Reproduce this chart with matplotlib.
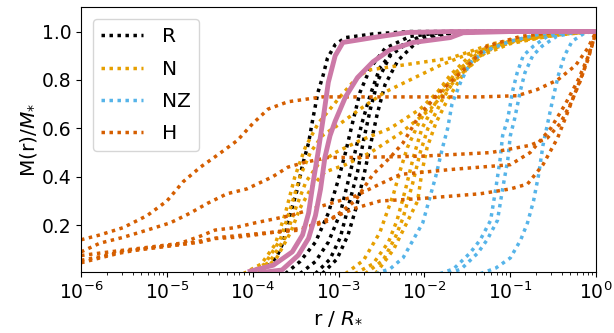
import numpy as np
import matplotlib
matplotlib.use("Agg")
import matplotlib.pyplot as plt

# colours per model family
C_R = "black"
C_N = "#E69F00"
C_NZ = "#56B4E9"
C_H = "#D55E00"
C_P = "#CC79A7"

# log10(r / R*) and enclosed mass fraction
# --- R ---
R1_logr = [-4.00, -3.83, -3.72, -3.65, -3.56, -3.48, -3.42, -3.35, -3.30, -3.24, -3.18, -3.13, -3.04, -2.92, -2.60, -2.17, 0.0]
R1_m = [0.006, 0.027, 0.07, 0.126, 0.25, 0.35, 0.45, 0.54, 0.64, 0.75, 0.82, 0.89, 0.946, 0.975, 0.99, 1.0, 1.0]
R2_logr = [-3.62, -3.45, -3.27, -3.12, -3.01, -2.92, -2.84, -2.75, -2.63, -2.46, -2.17, -1.70, 0.0]
R2_m = [0.0, 0.05, 0.13, 0.25, 0.38, 0.5, 0.62, 0.75, 0.85, 0.93, 0.98, 1.0, 1.0]
R3_logr = [-3.45, -3.27, -3.12, -2.98, -2.89, -2.81, -2.73, -2.63, -2.52, -2.34, -2.05, -1.58, 0.0]
R3_m = [0.0, 0.05, 0.13, 0.25, 0.38, 0.5, 0.62, 0.74, 0.85, 0.93, 0.98, 1.0, 1.0]
R4_logr = [-3.27, -3.10, -2.98, -2.87, -2.78, -2.71, -2.63, -2.54, -2.40, -2.17, -1.82, -1.35, 0.0]
R4_m = [0.0, 0.06, 0.15, 0.3, 0.42, 0.55, 0.68, 0.8, 0.9, 0.96, 0.99, 1.0, 1.0]
R5_logr = [-3.19, -3.02, -2.89, -2.79, -2.71, -2.63, -2.55, -2.46, -2.31, -2.11, -1.76, -1.23, 0.0]
R5_m = [0.0, 0.06, 0.16, 0.28, 0.4, 0.53, 0.66, 0.78, 0.88, 0.95, 0.99, 1.0, 1.0]

# --- N ---
N1_logr = [-4.11, -3.90, -3.74, -3.62, -3.51, -3.39, -3.24, -3.10, -2.96, -2.81, -2.67, -2.28, -1.70, -1.20, -0.77, -0.18, 0.0]
N1_m = [0.0, 0.04, 0.12, 0.25, 0.4, 0.52, 0.62, 0.68, 0.74, 0.8, 0.84, 0.86, 0.89, 0.95, 0.98, 1.0, 1.0]
N2_logr = [-4.05, -3.86, -3.68, -3.56, -3.45, -3.33, -3.19, -2.98, -2.75, -2.46, -2.17, -1.82, -1.47, -1.00, -0.42, 0.0]
N2_m = [0.0, 0.04, 0.14, 0.27, 0.4, 0.5, 0.57, 0.62, 0.68, 0.75, 0.8, 0.86, 0.91, 0.96, 0.99, 1.0]
N3_logr = [-4.01, -3.80, -3.62, -3.49, -3.38, -3.24, -3.04, -2.75, -2.40, -2.05, -1.76, -1.47, -1.17, -0.65, 0.0]
N3_m = [0.0, 0.05, 0.15, 0.28, 0.38, 0.45, 0.5, 0.55, 0.6, 0.68, 0.78, 0.88, 0.94, 0.98, 1.0]
N4_logr = [-3.94, -3.73, -3.56, -3.45, -3.31, -3.16, -2.92, -2.63, -2.28, -1.93, -1.64, -1.35, -1.00, -0.42, 0.0]
N4_m = [0.0, 0.06, 0.17, 0.27, 0.36, 0.42, 0.45, 0.5, 0.58, 0.68, 0.8, 0.9, 0.95, 0.99, 1.0]
N5_logr = [-2.92, -2.71, -2.52, -2.36, -2.28, -2.20, -2.07, -1.91, -1.70, -1.47, -1.12, -0.59, 0.0]
N5_m = [0.0, 0.055, 0.17, 0.33, 0.43, 0.52, 0.62, 0.72, 0.82, 0.9, 0.95, 0.99, 1.0]
N6_logr = [-2.81, -2.60, -2.42, -2.32, -2.22, -2.13, -2.03, -1.85, -1.64, -1.38, -1.00, -0.42, 0.0]
N6_m = [0.0, 0.04, 0.13, 0.22, 0.35, 0.48, 0.6, 0.72, 0.83, 0.91, 0.96, 0.99, 1.0]
N7_logr = [-2.69, -2.48, -2.34, -2.25, -2.14, -2.05, -1.96, -1.79, -1.58, -1.33, -0.94, -0.36, 0.0]
N7_m = [0.0, 0.056, 0.15, 0.23, 0.37, 0.5, 0.6, 0.72, 0.84, 0.92, 0.96, 0.99, 1.0]
N8_logr = [-2.57, -2.36, -2.22, -2.08, -2.03, -1.97, -1.87, -1.73, -1.52, -1.27, -0.88, -0.30, 0.0]
N8_m = [0.0, 0.1, 0.2, 0.3, 0.42, 0.52, 0.62, 0.72, 0.84, 0.92, 0.97, 0.995, 1.0]

# --- NZ ---
NZ1_logr = [-2.57, -2.40, -2.25, -2.02, -1.87, -1.79, -1.73, -1.68, -1.58, -1.47, -1.29, -1.00, -0.65, 0.0]
NZ1_m = [0.0, 0.02, 0.065, 0.21, 0.4, 0.52, 0.6, 0.7, 0.79, 0.87, 0.92, 0.96, 0.99, 1.0]
NZ2_logr = [-1.82, -1.66, -1.47, -1.35, -1.23, -1.17, -1.12, -1.09, -1.03, -0.97, -0.92, -0.85, -0.73, -0.57, -0.30, 0.0]
NZ2_m = [0.0, 0.02, 0.085, 0.14, 0.22, 0.35, 0.47, 0.57, 0.64, 0.76, 0.83, 0.9, 0.94, 0.98, 1.0, 1.0]
NZ3_logr = [-1.72, -1.57, -1.38, -1.27, -1.15, -1.09, -1.03, -1.00, -0.95, -0.88, -0.83, -0.74, -0.63, -0.46, -0.21, 0.0]
NZ3_m = [0.0, 0.02, 0.085, 0.14, 0.22, 0.35, 0.47, 0.57, 0.64, 0.76, 0.83, 0.9, 0.94, 0.98, 1.0, 1.0]
NZ4_logr = [-1.35, -1.17, -1.00, -0.88, -0.80, -0.73, -0.67, -0.62, -0.56, -0.50, -0.44, -0.37, -0.28, -0.13, 0.0]
NZ4_m = [0.0, 0.023, 0.065, 0.139, 0.21, 0.3, 0.41, 0.53, 0.63, 0.73, 0.82, 0.9, 0.96, 0.995, 1.0]

# --- H ---
H1_logr = [-6.00, -5.78, -5.51, -5.23, -5.00, -4.81, -4.61, -4.41, -4.18, -4.00, -3.82, -3.59, -3.19, -2.81, -2.05, -1.35, -0.92, -0.69, -0.45, -0.24, -0.10, 0.0]
H1_m = [0.14, 0.16, 0.19, 0.24, 0.30, 0.38, 0.44, 0.49, 0.55, 0.62, 0.68, 0.71, 0.73, 0.73, 0.73, 0.73, 0.735, 0.76, 0.80, 0.86, 0.93, 1.0]
H2_logr = [-6.00, -5.78, -5.51, -5.23, -4.96, -4.73, -4.53, -4.30, -4.07, -3.95, -3.77, -3.59, -3.39, -3.12, -2.81, -2.05, -1.23, -0.77, -0.57, -0.42, -0.30, -0.18, -0.09, 0.0]
H2_m = [0.09, 0.126, 0.15, 0.18, 0.21, 0.25, 0.29, 0.33, 0.35, 0.37, 0.40, 0.44, 0.46, 0.48, 0.48, 0.485, 0.5, 0.53, 0.56, 0.62, 0.7, 0.8, 0.9, 1.0]
H3_logr = [-6.00, -5.78, -5.55, -5.31, -5.08, -4.85, -4.61, -4.44, -4.21, -3.97, -3.56, -3.19, -2.81, -2.52, -2.28, -1.70, -1.00, -0.77, -0.53, -0.36, -0.21, -0.09, 0.0]
H3_m = [0.075, 0.085, 0.095, 0.105, 0.115, 0.125, 0.155, 0.18, 0.19, 0.21, 0.24, 0.28, 0.32, 0.37, 0.41, 0.43, 0.45, 0.5, 0.6, 0.7, 0.8, 0.9, 1.0]
H4_logr = [-6.00, -5.78, -5.55, -5.31, -5.08, -4.85, -4.61, -4.44, -4.21, -3.97, -3.39, -3.01, -2.81, -2.52, -2.05, -1.35, -1.00, -0.80, -0.62, -0.45, -0.34, -0.22, -0.10, 0.0]
H4_m = [0.055, 0.07, 0.09, 0.1, 0.11, 0.12, 0.13, 0.145, 0.15, 0.16, 0.19, 0.24, 0.27, 0.3, 0.31, 0.33, 0.35, 0.37, 0.45, 0.56, 0.66, 0.77, 0.88, 1.0]
H5_logr = [-6.00, -5.78, -5.55, -5.31, -5.08, -4.85, -4.61, -4.38, -4.09, -3.80, -3.45, -3.10, -2.81, -2.60, -2.40, -2.25, -2.05, -1.82, -1.55, -1.27, -0.88, -0.42, 0.0]
H5_m = [0.045, 0.065, 0.085, 0.1, 0.11, 0.12, 0.135, 0.15, 0.16, 0.17, 0.18, 0.22, 0.3, 0.41, 0.48, 0.54, 0.66, 0.75, 0.84, 0.94, 0.98, 1.0, 1.0]

# --- solid pink profiles ---
P1_logr = [-4.03, -3.76, -3.54, -3.42, -3.35, -3.30, -3.24, -3.18, -3.12, -3.04, -2.95, -2.60, -2.20, -1.70, 0.0]
P1_m = [0.01, 0.035, 0.09, 0.16, 0.25, 0.37, 0.5, 0.64, 0.79, 0.9, 0.955, 0.975, 0.996, 1.0, 1.0]
P2_logr = [-3.90, -3.66, -3.47, -3.35, -3.27, -3.21, -3.16, -3.10, -3.04, -2.92, -2.78, -2.60, -2.40, -2.13, -1.70, -1.55, -1.00, 0.0]
P2_m = [0.005, 0.015, 0.076, 0.146, 0.24, 0.35, 0.48, 0.57, 0.63, 0.73, 0.81, 0.875, 0.925, 0.955, 0.975, 0.995, 1.0, 1.0]

groups = [
    ("R", C_R, [(R1_logr, R1_m), (R2_logr, R2_m), (R3_logr, R3_m), (R4_logr, R4_m), (R5_logr, R5_m)]),
    ("N", C_N, [(N1_logr, N1_m), (N2_logr, N2_m), (N3_logr, N3_m), (N4_logr, N4_m),
                (N5_logr, N5_m), (N6_logr, N6_m), (N7_logr, N7_m), (N8_logr, N8_m)]),
    ("NZ", C_NZ, [(NZ1_logr, NZ1_m), (NZ2_logr, NZ2_m), (NZ3_logr, NZ3_m), (NZ4_logr, NZ4_m)]),
    ("H", C_H, [(H1_logr, H1_m), (H2_logr, H2_m), (H3_logr, H3_m), (H4_logr, H4_m), (H5_logr, H5_m)]),
]

fig = plt.figure(figsize=(6.14, 3.33), dpi=100)
ax = fig.add_axes([0.132, 0.184, 0.839, 0.794])

for label, col, curves in groups:
    for i, (lr, m) in enumerate(curves):
        ax.plot(10 ** np.array(lr), m, ls=(0, (1, 1.3)), lw=2.5, color=col,
                label=label if i == 0 else None)

for lr, m in [(P1_logr, P1_m), (P2_logr, P2_m)]:
    ax.plot(10 ** np.array(lr), m, ls="-", lw=3.5, color=C_P)

ax.set_xscale("log")
ax.set_xlim(1e-6, 1)
ax.set_ylim(0.008, 1.1)
ax.set_yticks([0.2, 0.4, 0.6, 0.8, 1.0])
ax.tick_params(labelsize=13.5)
ax.set_xlabel(r"r / $R_{*}$", fontsize=14.5)
ax.set_ylabel(r"M(r)/$M_{*}$", fontsize=14.5, labelpad=2)
ax.legend(loc="upper left", fontsize=14.5, handlelength=2.1, handletextpad=0.9,
          labelspacing=0.65, borderaxespad=0.6)

fig.savefig("out.png", dpi=100)
